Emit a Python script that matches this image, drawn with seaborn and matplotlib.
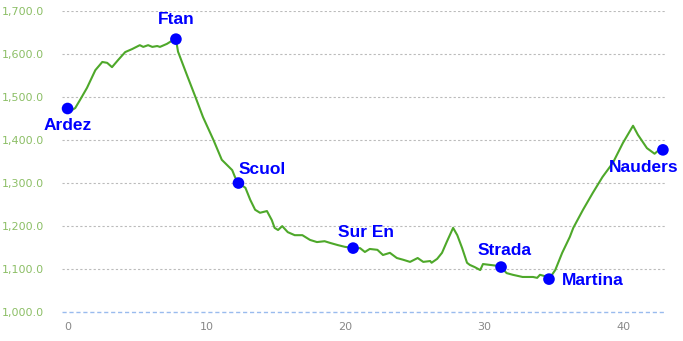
import matplotlib
matplotlib.use("Agg")
import matplotlib.pyplot as plt
import seaborn as sns
import pandas as pd

# Elevation profile (km, m)
km = [0.0, 0.2, 0.55, 0.9, 1.4, 2.0, 2.5, 2.85, 3.2, 3.65, 4.15, 4.65, 5.2, 5.45, 5.8, 6.1,
      6.45, 6.65, 7.15, 7.5, 7.8, 7.95, 8.6, 9.2, 9.75, 10.5, 11.1, 11.85, 12.05, 12.3,
      12.8, 13.15, 13.5, 13.85, 14.35, 14.7, 14.9, 15.15, 15.45, 15.85, 16.35, 16.9, 17.45,
      17.95, 18.5, 18.9, 19.45, 19.95, 20.55, 21.05, 21.4, 21.75, 22.3, 22.7, 23.2, 23.7,
      24.15, 24.65, 25.2, 25.6, 26.1, 26.2, 26.6, 26.95, 27.3, 27.75, 28.05, 28.4, 28.75,
      28.95, 29.3, 29.7, 29.9, 30.4, 30.9, 31.2, 31.6, 32.05, 32.75, 33.5, 33.8, 34.0, 34.35,
      34.65, 35.1, 35.6, 36.15, 36.4, 37.1, 37.8, 38.5, 39.25, 39.97, 40.7, 41.05, 41.7,
      42.25, 42.65, 42.85]
elev = [1472, 1467, 1474, 1493, 1521, 1562, 1581, 1579, 1569, 1586, 1604, 1611, 1620, 1616,
        1620, 1616, 1618, 1616, 1623, 1630, 1634, 1605, 1550, 1500, 1453, 1400, 1354,
        1330, 1314, 1300, 1289, 1261, 1238, 1231, 1235, 1214, 1196, 1191, 1200, 1186, 1179,
        1179, 1168, 1163, 1165, 1161, 1156, 1152, 1149, 1149, 1140, 1147, 1145, 1133, 1138,
        1126, 1122, 1117, 1126, 1117, 1119, 1115, 1124, 1138, 1164, 1196, 1179, 1149, 1115,
        1110, 1105, 1098, 1112, 1110, 1108, 1105, 1091, 1087, 1082, 1082, 1080, 1087, 1084,
        1077, 1098, 1138, 1175, 1196, 1238, 1277, 1314, 1347, 1393, 1433, 1412, 1381, 1368,
        1379, 1377]

# Places
places = ["Ardez", "Ftan", "Scuol", "Sur En", "Strada", "Martina", "Nauders"]
place_km = [0.0, 7.8, 12.3, 20.55, 31.2, 34.65, 42.85]
place_elev = [1473, 1634, 1300, 1149, 1105, 1077, 1377]
# label offsets in points (dx, dy) and alignment
label_off = [(0, -12), (0, 14), (0, 10), (-11, 11), (-17, 12), (9, -1), (-14, -13)]
label_ha = ["center", "center", "left", "left", "left", "left", "center"]

y_ticks = [1000, 1100, 1200, 1300, 1400, 1500, 1600, 1700]
x_ticks = [0, 10, 20, 30, 40]

sns.set_style("white")
plt.rcParams["font.family"] = ["DejaVu Sans"]

fig = plt.figure(figsize=(6.83, 3.41), dpi=100)
ax = fig.add_axes([62/683, 1 - 312.3/341, (665-62)/683, (312.3-10.7)/341])

prof = pd.DataFrame({"km": km, "elev": elev})
pts = pd.DataFrame({"km": place_km, "elev": place_elev, "name": places})

for yv in y_ticks:
    if yv == 1000:
        ax.axhline(yv, color="#99bbee", lw=1.0, ls=(0, (3, 2)), zorder=0, clip_on=False)
    else:
        ax.axhline(yv, color="#bbbbbb", lw=0.8, ls=(0, (2, 2)), zorder=0)

sns.lineplot(data=prof, x="km", y="elev", ax=ax, color="#4ea82a", lw=1.5, zorder=2)
sns.scatterplot(data=pts, x="km", y="elev", ax=ax, color="#0000ff", s=70,
                edgecolor="none", zorder=3, clip_on=False)

for name, xv, yv, (dx, dy), ha in zip(places, place_km, place_elev, label_off, label_ha):
    ax.annotate(name, (xv, yv), xytext=(dx, dy), textcoords="offset points",
                ha=ha, va="center", color="#0000ff", fontsize=12.5, fontweight="bold",
                family="Liberation Sans")

ax.set_xlim(-0.4, 43.0)
ax.set_ylim(1000, 1700)
ax.set_xticks(x_ticks)
ax.set_xticklabels([str(v) for v in x_ticks])
ax.set_yticks(y_ticks)
ax.set_yticklabels([f"{v:,.1f}" for v in y_ticks])
ax.tick_params(axis="y", length=0, pad=13, labelsize=8, labelcolor="#8cbf66")
ax.tick_params(axis="x", length=0, pad=7, labelsize=8, labelcolor="#888888")
ax.set_xlabel("")
ax.set_ylabel("")
for s in ax.spines.values():
    s.set_visible(False)
ax.grid(False)

fig.savefig("out.png", dpi=100)
